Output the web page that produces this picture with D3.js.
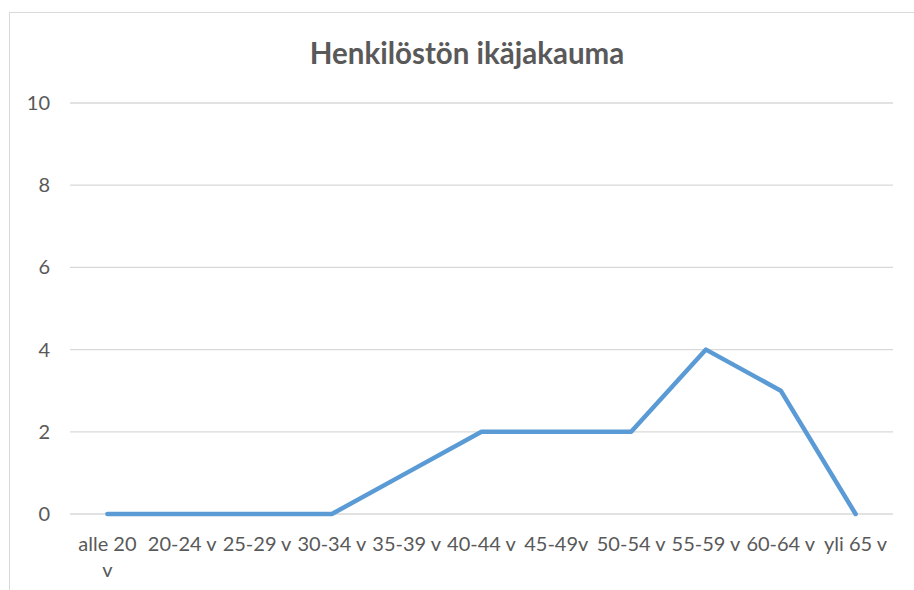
<!DOCTYPE html>
<html>
<head>
<meta charset="utf-8">
<script src="https://cdn.jsdelivr.net/npm/d3@7"></script>
<style>
  body { margin: 0; background: #fff; }
  text { font-family: Lato, "Open Sans", sans-serif; fill: #595959; }
</style>
</head>
<body>
<div id="chart-area"></div>
<script>
var categories = ["alle 20 v", "20-24 v", "25-29 v", "30-34 v", "35-39 v", "40-44 v",
                  "45-49v", "50-54 v", "55-59 v", "60-64 v", "yli 65 v"];
var values = [0, 0, 0, 0, 1, 2, 2, 2, 4, 3, 0];
var yTicks = [0, 2, 4, 6, 8, 10];

var width = 914, height = 590;
var margin = {top: 103, right: 21, bottom: 76, left: 70};
var chartWidth = width - margin.left - margin.right;
var chartHeight = height - margin.top - margin.bottom;

var svg = d3.select("#chart-area").append("svg")
    .attr("width", width).attr("height", height);

// outer chart border (cut by the window on right/bottom)
svg.append("rect").attr("x", 9.5).attr("y", 12.5).attr("width", 920).attr("height", 600)
    .attr("fill", "none").attr("stroke", "#d9d9d9").attr("stroke-width", 1);

svg.append("text").attr("x", 467).attr("y", 64).attr("text-anchor", "middle")
    .attr("font-size", "29.5px").attr("font-weight", "bold").text("Henkilöstön ikäjakauma");

var graph = svg.append("g").attr("transform", "translate(" + margin.left + "," + margin.top + ")");

var x = d3.scaleBand().domain(categories).range([0, chartWidth]);
var y = d3.scaleLinear().domain([0, 10]).range([chartHeight, 0]);

// gridlines
graph.append("g").selectAll("line").data(yTicks).enter().append("line")
    .attr("x1", 0).attr("x2", chartWidth)
    .attr("y1", (d) => { return y(d); }).attr("y2", (d) => { return y(d); })
    .attr("stroke", "#d9d9d9").attr("stroke-width", 1.3);

var yAxis = d3.axisLeft(y).tickValues(yTicks).tickSize(0).tickPadding(20);
graph.append("g").call(yAxis)
    .call((g) => g.select(".domain").remove())
    .selectAll("text").attr("font-size", "20px").attr("fill", "#595959");

var xAxis = d3.axisBottom(x).tickSize(0).tickPadding(0);
var xg = graph.append("g").attr("transform", "translate(0," + chartHeight + ")").call(xAxis);
xg.select(".domain").remove();
xg.selectAll("text").attr("font-size", "20px").attr("fill", "#595959")
    .each(function(d) {
        var t = d3.select(this);
        t.text(null).attr("y", 0).attr("dy", null);
        var lines = d == "alle 20 v" ? ["alle 20", "v"] : [d];
        lines.forEach((s, i) => {
            t.append("tspan").attr("x", 0).attr("y", 37 + i * 26).text(s);
        });
    });

var line = d3.line()
    .x((d, i) => { return x(categories[i]) + x.bandwidth() / 2; })
    .y((d) => { return y(d); });

graph.append("path").datum(values)
    .attr("d", line)
    .attr("fill", "none")
    .attr("stroke", "#5b9bd5")
    .attr("stroke-width", 4.5)
    .attr("stroke-linejoin", "round")
    .attr("stroke-linecap", "round");
</script>
</body>
</html>
